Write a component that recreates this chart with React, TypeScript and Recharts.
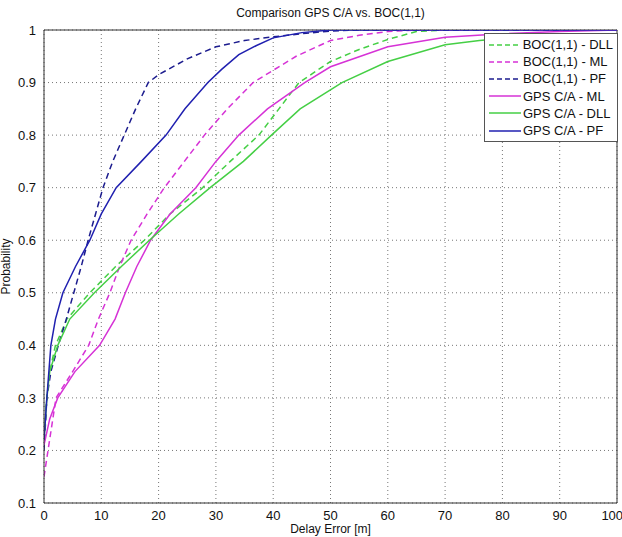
import React from "react";
import { LineChart, Line, XAxis, YAxis, CartesianGrid, ReferenceLine } from "recharts";

// Delay error [m] vs cumulative probability
const bocDll = [
  { x: 0, y: 0.22 }, { x: 0.5, y: 0.3 }, { x: 1, y: 0.35 }, { x: 2, y: 0.4 }, { x: 4, y: 0.45 },
  { x: 8, y: 0.5 }, { x: 12.5, y: 0.55 }, { x: 17.5, y: 0.6 }, { x: 22, y: 0.65 }, { x: 27.7, y: 0.7 },
  { x: 32.5, y: 0.75 }, { x: 37.5, y: 0.8 }, { x: 41, y: 0.85 }, { x: 44.5, y: 0.9 }, { x: 50, y: 0.94 },
  { x: 55, y: 0.963 }, { x: 60, y: 0.982 }, { x: 65, y: 0.997 }, { x: 70, y: 1 }, { x: 100, y: 1 },
];
const bocMl = [
  { x: 0, y: 0.15 }, { x: 0.7, y: 0.2 }, { x: 2.1, y: 0.3 }, { x: 5, y: 0.35 }, { x: 7.8, y: 0.4 },
  { x: 9.5, y: 0.45 }, { x: 11.5, y: 0.5 }, { x: 13.2, y: 0.55 }, { x: 15.2, y: 0.6 }, { x: 18, y: 0.65 },
  { x: 21, y: 0.7 }, { x: 24.5, y: 0.75 }, { x: 28, y: 0.8 }, { x: 32, y: 0.85 }, { x: 36.5, y: 0.9 },
  { x: 44, y: 0.95 }, { x: 50, y: 0.98 }, { x: 55, y: 0.99 }, { x: 60, y: 0.997 }, { x: 65, y: 1 }, { x: 100, y: 1 },
];
const bocPf = [
  { x: 0, y: 0.2 }, { x: 0.5, y: 0.3 }, { x: 1.2, y: 0.35 }, { x: 2.5, y: 0.4 }, { x: 3.9, y: 0.45 },
  { x: 5.2, y: 0.5 }, { x: 6.5, y: 0.55 }, { x: 7.7, y: 0.6 }, { x: 9, y: 0.65 }, { x: 10.3, y: 0.7 },
  { x: 12, y: 0.75 }, { x: 14, y: 0.8 }, { x: 16, y: 0.85 }, { x: 18.2, y: 0.9 }, { x: 20, y: 0.915 },
  { x: 25, y: 0.945 }, { x: 30, y: 0.968 }, { x: 35, y: 0.98 }, { x: 40, y: 0.987 }, { x: 45, y: 0.993 },
  { x: 50, y: 0.998 }, { x: 55, y: 1 }, { x: 100, y: 1 },
];
const gpsMl = [
  { x: 0, y: 0.21 }, { x: 1, y: 0.26 }, { x: 2.4, y: 0.3 }, { x: 5.4, y: 0.35 }, { x: 9.7, y: 0.4 },
  { x: 12.4, y: 0.45 }, { x: 14.2, y: 0.5 }, { x: 16.2, y: 0.55 }, { x: 18.6, y: 0.6 }, { x: 22, y: 0.65 },
  { x: 26.5, y: 0.7 }, { x: 30, y: 0.75 }, { x: 34, y: 0.8 }, { x: 39, y: 0.85 }, { x: 45.5, y: 0.9 },
  { x: 50, y: 0.93 }, { x: 60, y: 0.968 }, { x: 70, y: 0.986 }, { x: 80, y: 0.993 }, { x: 90, y: 0.997 }, { x: 100, y: 1 },
];
const gpsDll = [
  { x: 0, y: 0.22 }, { x: 0.5, y: 0.3 }, { x: 1, y: 0.35 }, { x: 2.4, y: 0.4 }, { x: 4.5, y: 0.45 },
  { x: 8.8, y: 0.5 }, { x: 13.5, y: 0.55 }, { x: 18.4, y: 0.6 }, { x: 23.5, y: 0.65 }, { x: 29, y: 0.7 },
  { x: 34.8, y: 0.75 }, { x: 39.7, y: 0.8 }, { x: 44.7, y: 0.85 }, { x: 52, y: 0.9 }, { x: 60, y: 0.94 },
  { x: 70, y: 0.972 }, { x: 76, y: 0.98 }, { x: 80, y: 0.984 }, { x: 90, y: 0.988 }, { x: 100, y: 0.993 },
];
const gpsPf = [
  { x: 0, y: 0.22 }, { x: 0.5, y: 0.3 }, { x: 1.2, y: 0.4 }, { x: 2, y: 0.45 }, { x: 3.3, y: 0.5 },
  { x: 5.5, y: 0.55 }, { x: 8, y: 0.6 }, { x: 10, y: 0.65 }, { x: 12.6, y: 0.7 }, { x: 17, y: 0.75 },
  { x: 21.3, y: 0.8 }, { x: 24.6, y: 0.85 }, { x: 28.6, y: 0.9 }, { x: 31, y: 0.925 }, { x: 34, y: 0.953 },
  { x: 37, y: 0.97 }, { x: 40, y: 0.985 }, { x: 45, y: 0.995 }, { x: 50, y: 1 }, { x: 100, y: 1 },
];

const xTicks = [0, 10, 20, 30, 40, 50, 60, 70, 80, 90, 100];
const yTicks = [0.1, 0.2, 0.3, 0.4, 0.5, 0.6, 0.7, 0.8, 0.9, 1];

const GREEN = "#45cf45";
const MAGENTA = "#d632d6";
const BLUE = "#2020b0";
const NAVY = "#1c1c8e";
const FONT = "'Liberation Sans', Arial, sans-serif";

// legend order as in the figure
const series = [
  { name: "BOC(1,1) - DLL", data: bocDll, color: GREEN, dash: "6 4" },
  { name: "BOC(1,1) - ML", data: bocMl, color: MAGENTA, dash: "6 4" },
  { name: "BOC(1,1) - PF", data: bocPf, color: NAVY, dash: "6 4" },
  { name: "GPS C/A - ML", data: gpsMl, color: MAGENTA, dash: undefined },
  { name: "GPS C/A - DLL", data: gpsDll, color: GREEN, dash: undefined },
  { name: "GPS C/A - PF", data: gpsPf, color: BLUE, dash: undefined },
];

const LegendBox = () => (
  <div
    style={{
      position: "absolute",
      top: 33,
      left: 484,
      width: 124,
      background: "#fff",
      border: "1px solid #555",
      padding: "2px 4px",
      fontFamily: FONT,
      fontSize: 13,
      lineHeight: "17.2px",
      color: "#111",
      whiteSpace: "nowrap",
    }}
  >
    {series.map((s) => (
      <div key={s.name} style={{ display: "flex", alignItems: "center" }}>
        <svg width={32} height={10} style={{ marginRight: 2 }}>
          <line x1={0} y1={5} x2={32} y2={5} stroke={s.color} strokeWidth={1.5} strokeDasharray={s.dash ? "5 3" : undefined} />
        </svg>
        <span>{s.name}</span>
      </div>
    ))}
  </div>
);

export default function App() {
  return (
    <div style={{ position: "absolute", left: 0, top: 0, width: 622, height: 537, background: "#fff" }}>
      <div
        style={{
          position: "absolute",
          top: 6,
          left: 44,
          width: 573,
          textAlign: "center",
          fontFamily: FONT,
          fontSize: 12,
          color: "#111",
        }}
      >
        Comparison GPS C/A vs. BOC(1,1)
      </div>
      <LineChart width={622} height={537} margin={{ top: 30, right: 5, bottom: 0, left: 14 }}>
        <CartesianGrid stroke="#777" strokeDasharray="1 3" />
        <XAxis
          type="number"
          dataKey="x"
          domain={[0, 100]}
          ticks={xTicks}
          allowDataOverflow
          stroke="#333"
          tickLine={false}
          tick={{ fill: "#111", fontSize: 13, fontFamily: FONT }}
          height={34}
          label={{ value: "Delay Error [m]", position: "insideBottom", offset: 4, fill: "#111", fontSize: 12, fontFamily: FONT }}
        />
        <YAxis
          type="number"
          domain={[0.1, 1]}
          ticks={yTicks}
          allowDataOverflow
          stroke="#333"
          tickLine={false}
          width={30}
          tick={{ fill: "#111", fontSize: 13, fontFamily: FONT }}
          label={{ value: "Probability", angle: -90, position: "insideLeft", offset: -8, fill: "#111", fontSize: 12, fontFamily: FONT, style: { textAnchor: "middle" } }}
        />
        <ReferenceLine y={1} stroke="#333" ifOverflow="visible" />
        <ReferenceLine x={100} stroke="#333" ifOverflow="visible" />
        {series.map((s) => (
          <Line
            key={s.name}
            name={s.name}
            data={s.data}
            dataKey="y"
            type="linear"
            stroke={s.color}
            strokeWidth={1.5}
            strokeDasharray={s.dash}
            dot={false}
            isAnimationActive={false}
          />
        ))}
      </LineChart>
      <LegendBox />
    </div>
  );
}
